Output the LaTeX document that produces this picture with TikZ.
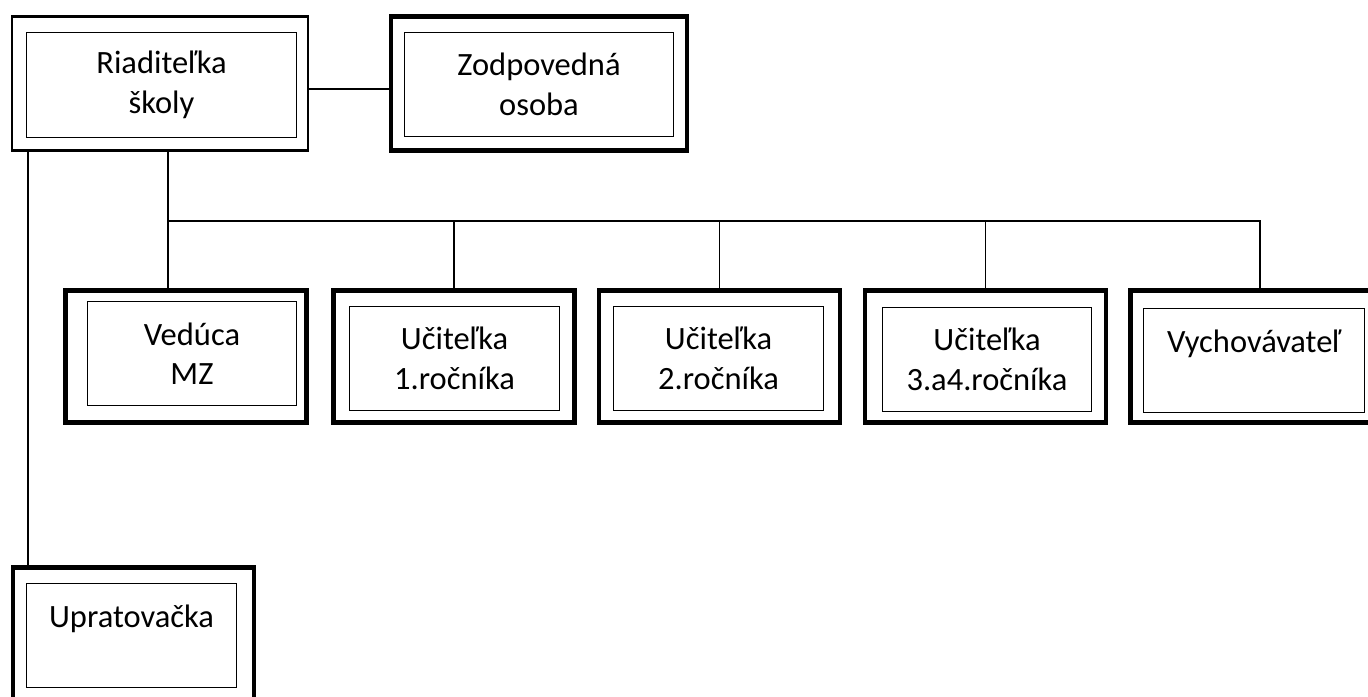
\documentclass[tikz,border=0pt]{standalone}
\usepackage{fontspec}
\setmainfont{Carlito}
\usetikzlibrary{calc}

\tikzset{
  outerbox/.style={draw, line width=2.8pt, inner sep=0pt, minimum width=4.82cm, minimum height=2.64cm},
  thinbox/.style={outerbox, line width=1.2pt},
  innerbox/.style={draw, line width=0.8pt, inner sep=0pt, minimum width=4.19cm, minimum height=2.07cm, align=center, font=\fontsize{18.5}{22.5}\selectfont},
  link/.style={line width=0.8pt},
}

\begin{document}
\begin{tikzpicture}[x=0.02cm, y=-0.02cm]
			%%%%% START %%%%%
			\useasboundingbox (0,0) rectangle (1368,696);
			
			\node[thinbox, minimum width=5.92cm, minimum height=2.68cm] (riad) at (160, 83.5) {};
			\node[innerbox, minimum width=5.39cm, minimum height=2.09cm] (riadIn) at (161.5, 85) {Riaditeľka\\školy};
			
			\node[outerbox, minimum width=5.92cm, minimum height=2.68cm] (zodp) at (539, 83.5) {};
			\node[innerbox, minimum width=5.39cm, minimum height=2.07cm] (zodpIn) at (539, 84.5) {Zodpovedná\\osoba};
			
			\node[outerbox] (ved) at (186, 356.5) {};
			\node[innerbox] (vedIn) at (192, 353.5) {Vedúca\\MZ};
			
			\node[outerbox] (uc1) at (454, 356.5) {};
			\node[innerbox] (uc1In) at (454.5, 358.5) {Učiteľka\\1.ročníka};
			
			\node[outerbox] (uc2) at (719.5, 356.5) {};
			\node[innerbox] (uc2In) at (718.5, 358.5) {Učiteľka\\2.ročníka};
			
			\node[outerbox] (uc3) at (985.5, 356.5) {};
			\node[innerbox] (uc3In) at (987, 359.5) {Učiteľka\\3.a4.ročníka};
			
			\node[outerbox, minimum width=4.94cm] (vych) at (1254, 356.5) {};
			\node[innerbox, minimum width=4.41cm] (vychIn) at (1254, 360.5) {Vychovávateľ\\~};
			
			\node[outerbox] (uprat) at (133.5, 633.5) {};
			\node[innerbox] (upratIn) at (131.5, 635.5) {Upratovačka\\~};
			
			% connectors
			\draw[link] ([yshift=-0.11cm]riad.east) -- ([yshift=-0.11cm]riad.east -| zodp.west);
			\draw[link] ([xshift=0.34cm]riad.south west) -- ([xshift=0.34cm]riad.south west |- uprat.north);
			
			\coordinate (barL) at (168, 221);
			\coordinate (barR) at (1260, 221);
			\draw[link] (riad.south -| barL) -- (barL) -- (barR) -- (barR |- vych.north);
			\draw[link] (barL) -- (barL |- ved.north);
			\foreach \n in {uc1, uc2, uc3}
				\draw[link] (\n.north |- barL) -- (\n.north);
			%%%%% END %%%%%
\end{tikzpicture}
\end{document}
